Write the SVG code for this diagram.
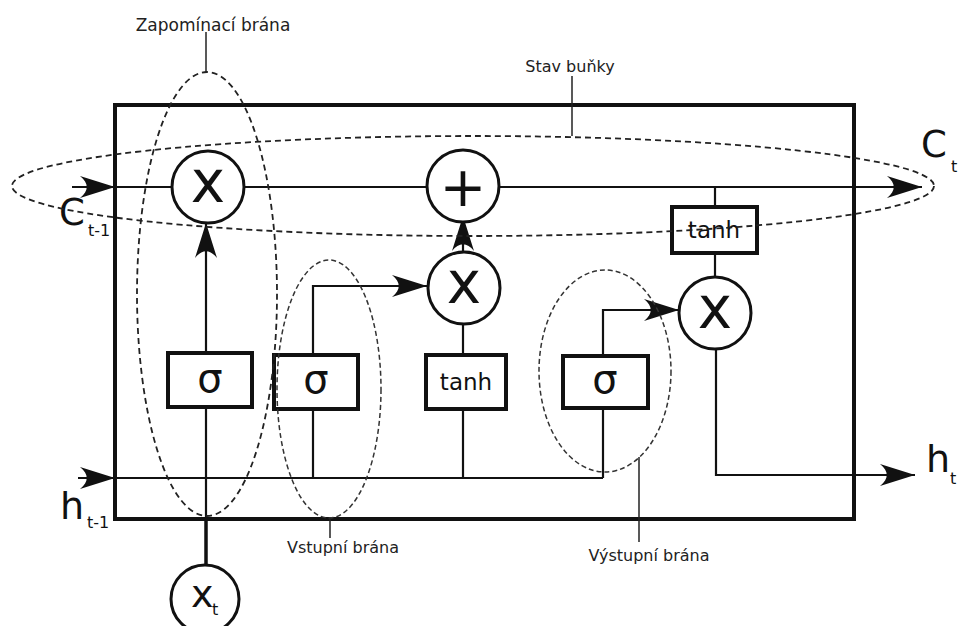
<svg xmlns="http://www.w3.org/2000/svg" width="962" height="626" viewBox="0 0 962 626">
  <style>
    text { font-family: "DejaVu Sans", "Liberation Sans", sans-serif; fill: #111; }
    .lbl { font-size: 16px; text-anchor: middle; fill: #222; }
    .io { font-size: 37px; }
    .sub { font-size: 16px; }
    .op { font-size: 58px; text-anchor: middle; }
    .fn { font-size: 40px; text-anchor: middle; }
    .th { font-size: 23px; text-anchor: middle; }
    .wire { fill: none; stroke: #111; stroke-width: 2.2; }
    .arrow { fill: none; stroke: #111; stroke-width: 2.2; marker-end: url(#head); }
    .node { fill: #fff; stroke: #111; stroke-width: 3; }
    .box { fill: #fff; stroke: #111; stroke-width: 4; }
    .gate { fill: none; stroke: #222; stroke-width: 1.8; stroke-dasharray: 6 4; }
    .gate2 { fill: none; stroke: #333; stroke-width: 1.5; stroke-dasharray: 5 3; }
    .lead { fill: none; stroke: #222; stroke-width: 1.5; }
  </style>
  <defs>
    <marker id="head" viewBox="-36 -12 38 24" refX="0" refY="0" markerWidth="38" markerHeight="24" markerUnits="userSpaceOnUse" orient="auto">
      <path d="M0,0 L-35,-11 C-26,-4 -26,4 -35,11 Z" fill="#111"/>
    </marker>
  </defs>

  <rect width="962" height="626" fill="#fff"/>

  <!-- cell frame -->
  <rect id="cell" x="115" y="105" width="739" height="414" fill="none" stroke="#111" stroke-width="4"/>

  <!-- connectors -->
  <g id="connectors">
    <!-- cell state line -->
    <line class="wire" x1="115" y1="187" x2="900" y2="187"/>
    <line class="arrow" x1="72" y1="187" x2="115" y2="187"/>
    <line class="arrow" x1="880" y1="187" x2="922" y2="187"/>
    <!-- hidden state input bus -->
    <line class="arrow" x1="78" y1="478" x2="115" y2="478"/>
    <line class="wire" x1="115" y1="478" x2="603" y2="478"/>
    <!-- x_t into forget gate -->
    <line class="wire" x1="206" y1="519" x2="206" y2="565" style="stroke-width:3.5"/>
    <line class="wire" x1="206" y1="407" x2="206" y2="519"/>
    <line class="arrow" x1="206" y1="353" x2="206" y2="223"/>
    <!-- input gate -->
    <line class="wire" x1="313" y1="478" x2="313" y2="407"/>
    <polyline class="arrow" points="313,355 313,286 427,286"/>
    <!-- candidate -->
    <line class="wire" x1="463" y1="478" x2="463" y2="407"/>
    <line class="wire" x1="463" y1="355" x2="463" y2="324"/>
    <line class="arrow" x1="463" y1="252" x2="463" y2="216"/>
    <!-- output gate -->
    <line class="wire" x1="603" y1="478" x2="603" y2="408"/>
    <polyline class="arrow" points="603,356 603,310 679,310"/>
    <!-- output tanh -->
    <line class="wire" x1="715" y1="187" x2="715" y2="207"/>
    <line class="wire" x1="715" y1="253" x2="715" y2="277"/>
    <polyline class="arrow" points="716,349 716,475 915,475"/>
  </g>

  <!-- forget multiply -->
  <g id="forget-mul">
    <circle class="node" cx="208" cy="187" r="36"/>
    <text class="op" x="208" y="202">x</text>
  </g>
  <!-- state add -->
  <g id="state-add">
    <circle class="node" cx="463" cy="186" r="36"/>
    <text class="op" x="463" y="206" style="font-size:56px">+</text>
  </g>
  <!-- input multiply -->
  <g id="input-mul">
    <circle class="node" cx="464" cy="288" r="36"/>
    <text class="op" x="464" y="303">x</text>
  </g>
  <!-- output multiply -->
  <g id="output-mul">
    <circle class="node" cx="715" cy="313" r="36"/>
    <text class="op" x="715" y="328">x</text>
  </g>

  <!-- gate layers -->
  <g id="forget-sigma">
    <rect class="box" x="168" y="353" width="84" height="54"/>
    <text class="fn" x="210" y="392">σ</text>
  </g>
  <g id="input-sigma">
    <rect class="box" x="274" y="355" width="84" height="54"/>
    <text class="fn" x="316" y="393">σ</text>
  </g>
  <g id="candidate-tanh">
    <rect class="box" x="426" y="355" width="80" height="54"/>
    <text class="th" x="466" y="390">tanh</text>
  </g>
  <g id="output-sigma">
    <rect class="box" x="563" y="356" width="85" height="52"/>
    <text class="fn" x="605" y="393">σ</text>
  </g>
  <g id="state-tanh">
    <rect class="box" x="672" y="207" width="85" height="46"/>
    <text class="th" x="714" y="238">tanh</text>
  </g>

  <!-- input x_t -->
  <g id="input-x">
    <circle class="node" cx="205" cy="599" r="34"/>
    <text class="io" x="191" y="607" style="font-size:38px">x</text>
    <text class="sub" x="212" y="615">t</text>
  </g>

  <!-- terminal labels -->
  <g id="c-prev">
    <text class="io" x="59" y="225">C</text>
    <text class="sub" x="88" y="236">t-1</text>
  </g>
  <g id="h-prev">
    <text class="io" x="60" y="519" style="font-size:38px">h</text>
    <text class="sub" x="87" y="528">t-1</text>
  </g>
  <g id="c-next">
    <text class="io" x="921" y="157">C</text>
    <text class="sub" x="951" y="172">t</text>
  </g>
  <g id="h-next">
    <text class="io" x="926" y="472" style="font-size:38px">h</text>
    <text class="sub" x="950" y="484">t</text>
  </g>

  <!-- gate annotations -->
  <g id="state-annot">
    <ellipse class="gate" cx="473" cy="186" rx="461" ry="50"/>
    <line class="lead" x1="572" y1="76" x2="572" y2="136"/>
    <text class="lbl" x="570" y="72">Stav buňky</text>
  </g>
  <g id="forget-annot">
    <ellipse class="gate" cx="207" cy="294" rx="70" ry="222"/>
    <line class="lead" x1="206" y1="32" x2="206" y2="72"/>
    <text class="lbl" x="213" y="31" style="font-size:17px">Zapomínací brána</text>
  </g>
  <g id="input-annot">
    <ellipse class="gate2" cx="329" cy="389" rx="52" ry="129"/>
    <line class="lead" x1="330" y1="518" x2="330" y2="538"/>
    <text class="lbl" x="343" y="553">Vstupní brána</text>
  </g>
  <g id="output-annot">
    <ellipse class="gate2" cx="605" cy="371" rx="66" ry="101"/>
    <line class="lead" x1="639" y1="457" x2="639" y2="542"/>
    <text class="lbl" x="649" y="561">Výstupní brána</text>
  </g>
</svg>
